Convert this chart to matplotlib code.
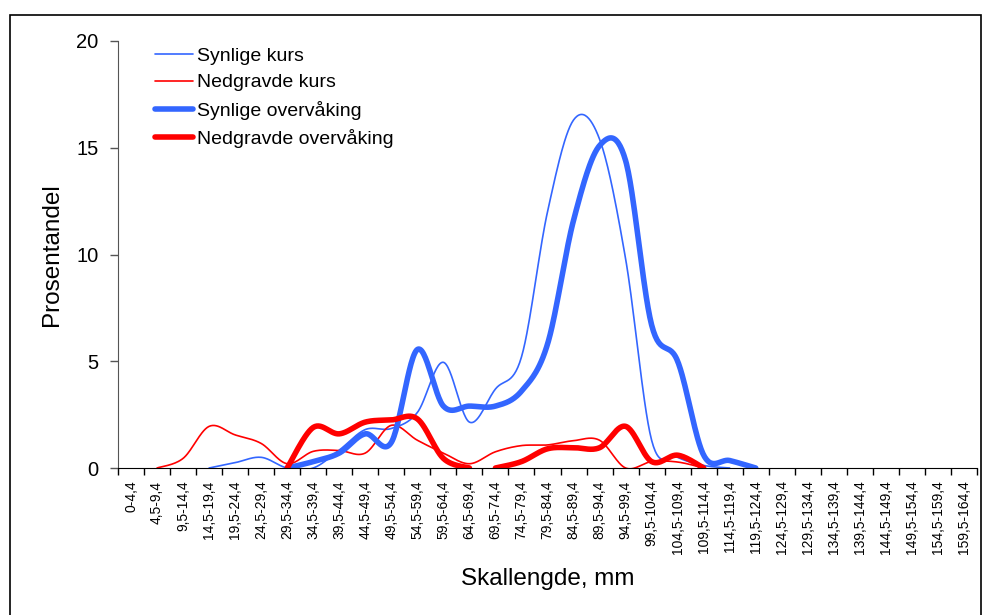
import matplotlib
matplotlib.use("Agg")
import matplotlib.pyplot as plt
import numpy as np
from matplotlib.patches import Rectangle

plt.rcParams['font.family'] = ['Liberation Sans', 'DejaVu Sans']

# Size classes (shell length, mm)
kategorier = ['0-4,4', '4,5-9,4', '9,5-14,4', '14,5-19,4', '19,5-24,4', '24,5-29,4',
              '29,5-34,4', '34,5-39,4', '39,5-44,4', '44,5-49,4', '49,5-54,4',
              '54,5-59,4', '59,5-64,4', '64,5-69,4', '69,5-74,4', '74,5-79,4',
              '79,5-84,4', '84,5-89,4', '89,5-94,4', '94,5-99,4', '99,5-104,4',
              '104,5-109,4', '109,5-114,4', '114,5-119,4', '119,5-124,4',
              '124,5-129,4', '129,5-134,4', '134,5-139,4', '139,5-144,4',
              '144,5-149,4', '149,5-154,4', '154,5-159,4', '159,5-164,4']

N = None
synlige_kurs = [N, N, N, 0, 0.25, 0.5, 0, 0, 0.84, 1.8, 1.85, 2.6, 4.95, 2.15, 3.7,
                5.2, 12.0, 16.3, 15.4, 9.8, 1.3, 0.5, 0.12, 0] + [N] * 9
nedgravde_kurs = [N, 0, 0.45, 1.95, 1.55, 1.15, 0.2, 0.78, 0.82, 0.7, 2.0, 1.3, 0.7,
                  0.2, 0.76, 1.05, 1.08, 1.28, 1.3, 0, 0.3, 0.28, 0] + [N] * 10
synlige_overvaking = [N, N, N, N, N, N, 0, 0.3, 0.7, 1.6, 1.2, 5.55, 2.9, 2.9, 2.9,
                      3.6, 5.8, 11.6, 15.1, 14.4, 6.7, 5.0, 0.6, 0.35, 0] + [N] * 8
nedgravde_overvaking = [N, N, N, N, N, N, 0, 1.9, 1.6, 2.15, 2.25, 2.3, 0.45, 0,
                        0, 0.3, 0.9, 0.95, 0.95, 1.95, 0.3, 0.6, 0] + [N] * 10
# the line is broken between these category indices in the original
nedgravde_overvaking_brudd = [13]

blaa = '#3366FF'
roed = '#FF0000'


def segments(values, breaks=()):
    segs, cur = [], []
    for i, v in enumerate(values):
        if v is None:
            if cur:
                segs.append(cur)
            cur = []
            continue
        cur.append((i, v))
        if i in breaks:
            segs.append(cur)
            cur = []
    if cur:
        segs.append(cur)
    return segs


# Excel-like smoothed line (cardinal spline through the points)
def smooth(pts, n=30):
    p = np.array(pts, dtype=float)
    if len(p) < 2:
        return p[:, 0], p[:, 1]
    ext = np.vstack([p[0], p, p[-1]])
    xs, ys = [], []
    t = np.linspace(0, 1, n)
    for k in range(len(p) - 1):
        p0, p1, p2, p3 = ext[k], ext[k + 1], ext[k + 2], ext[k + 3]
        c1 = p1 + (p2 - p0) / 6
        c2 = p2 - (p3 - p1) / 6
        b = ((1 - t) ** 3)[:, None] * p1 + (3 * (1 - t) ** 2 * t)[:, None] * c1 \
            + (3 * (1 - t) * t ** 2)[:, None] * c2 + (t ** 3)[:, None] * p2
        xs.extend(b[:, 0])
        ys.extend(b[:, 1])
    return np.array(xs), np.array(ys)


fig = plt.figure(figsize=(9.83, 6.15), dpi=100)
ax = fig.add_axes([118 / 983, 1 - 468 / 615, 859 / 983, 427 / 615])

serier = [
    ('Synlige kurs', synlige_kurs, blaa, 1.2, ()),
    ('Nedgravde kurs', nedgravde_kurs, roed, 1.2, ()),
    ('Synlige overvåking', synlige_overvaking, blaa, 4.0, ()),
    ('Nedgravde overvåking', nedgravde_overvaking, roed, 4.0, nedgravde_overvaking_brudd),
]
handles = []
for navn, verdier, farge, lw, brudd in serier:
    for j, seg in enumerate(segments(verdier, brudd)):
        x, y = smooth(seg)
        line, = ax.plot(x, y, color=farge, lw=lw, solid_capstyle='round',
                        solid_joinstyle='round', label=navn if j == 0 else None)
        if j == 0:
            handles.append(line)

ax.set_xlim(-0.5, len(kategorier) - 0.5)
ax.set_ylim(0, 20)
ax.set_yticks([0, 5, 10, 15, 20])
ax.set_xticks(np.arange(len(kategorier)))
ax.set_xticklabels(kategorier, rotation=90, fontsize=10, va='top', ha='center')
ax.set_xticks(np.arange(len(kategorier) + 1) - 0.5, minor=True)
ax.tick_params(axis='x', which='major', length=0, pad=9)
ax.tick_params(axis='x', which='minor', length=5, width=1, direction='out', color='black')
ax.tick_params(axis='y', length=6, width=1, direction='out', color='#555555', pad=8,
               labelsize=14.5)
for s in ['top', 'right']:
    ax.spines[s].set_visible(False)
ax.spines['left'].set_color('#555555')
ax.spines['bottom'].set_color('black')

ax.set_ylabel('Prosentandel', fontsize=17.5)
ax.yaxis.set_label_coords(-0.064, 0.5)
ax.set_xlabel('Skallengde, mm', fontsize=17.5)
ax.xaxis.set_label_coords(0.5, -(568 - 468) / 427)

ax.legend(handles=handles, loc='upper left', frameon=False, fontsize=14,
          bbox_to_anchor=(155 / 983, 1 - 47 / 615), bbox_transform=fig.transFigure,
          borderaxespad=0, borderpad=0, handlelength=1.95, handletextpad=0.2,
          labelspacing=0.47)

fig.patches.append(Rectangle((10 / 983, -0.05), 971 / 983, 1 - 15 / 615 + 0.05,
                             transform=fig.transFigure, fill=False,
                             edgecolor='black', lw=1.2))

fig.savefig('out.png', dpi=100)
